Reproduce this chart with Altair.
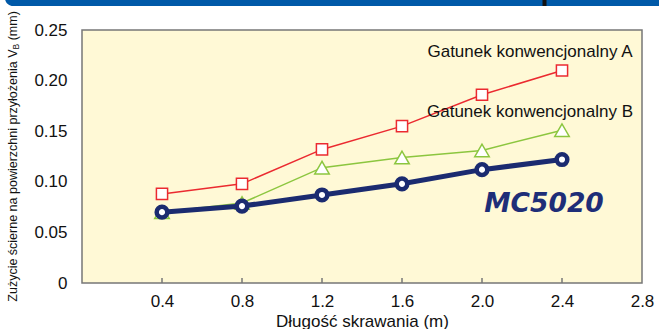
import altair as alt
import pandas as pd

# Cutting length (m) and flank wear VB (mm) for each grade
lengths = [0.4, 0.8, 1.2, 1.6, 2.0, 2.4]
grade_a = [0.088, 0.098, 0.132, 0.155, 0.186, 0.210]
grade_b = [0.070, 0.079, 0.114, 0.124, 0.131, 0.151]
mc5020 = [0.070, 0.076, 0.087, 0.098, 0.112, 0.122]

series_names = ["Gatunek konwencjonalny A", "Gatunek konwencjonalny B", "MC5020"]
x_ticks = [0.4, 0.8, 1.2, 1.6, 2.0, 2.4, 2.8]
y_ticks = [0, 0.05, 0.10, 0.15, 0.20, 0.25]

FONT = "Liberation Sans"
RED = "#EB2A30"
GREEN = "#8CC63F"
NAVY = "#1B2B70"

W, H = 560, 253

x_scale = alt.Scale(domain=[0, 2.8], nice=False, zero=False)
y_scale = alt.Scale(domain=[0, 0.25], nice=False)

x_axis = alt.Axis(
    values=x_ticks, format=".1f", grid=False, domain=False, ticks=False,
    tickSize=0, labelPadding=10, labelFontSize=17, labelColor="#111",
    labelFlush=False, labelOverlap=False, labelBound=False,
    title="Długość skrawania (m)", titleFontSize=17, titleFontWeight="normal",
    titleColor="#111", titleY=43, titleBaseline="alphabetic",
)
y_axis = alt.Axis(
    values=y_ticks, grid=False, domain=False, ticks=False, tickSize=0,
    labelPadding=15, labelFontSize=17, labelColor="#111", labelFlush=False,
    labelOverlap=False,
    labelExpr="datum.value == 0 ? '0' : format(datum.value, '.2f')",
    title=None,
)


def frame(values):
    return pd.DataFrame({"length": lengths, "wear": values})


def series_layers(values, color, line_width, shape, size, stroke_width):
    base = alt.Chart(frame(values)).encode(
        x=alt.X("length:Q", scale=x_scale, axis=x_axis),
        y=alt.Y("wear:Q", scale=y_scale, axis=y_axis),
    )
    line = base.mark_line(color=color, strokeWidth=line_width)
    points = base.mark_point(
        shape=shape, size=size, filled=True, fill="white",
        stroke=color, strokeWidth=stroke_width, opacity=1,
    )
    return [line, points]


layers = []
layers += series_layers(grade_a, RED, 1.5, "square", 125, 1.5)
layers += series_layers(grade_b, GREEN, 1.5, "triangle-up", 210, 1.5)
layers += series_layers(mc5020, NAVY, 5, "circle", 113, 4.5)

# Inward tick marks on the bottom edge
ticks = alt.Chart(pd.DataFrame({"tick": x_ticks[:-1]})).mark_rule(
    color="#777", strokeWidth=1.5
).encode(x=alt.X("tick:Q", scale=x_scale), y=alt.value(H), y2=alt.value(H - 5))

# Series labels, placed next to the last point of each series
label_df = pd.DataFrame({
    "length": [lengths[-1], lengths[-1]],
    "wear": [grade_a[-1], grade_b[-1]],
    "name": series_names[:2],
})
labels = alt.Chart(label_df).mark_text(
    font=FONT, fontSize=17, color="#111", align="center",
    baseline="alphabetic", dx=-32, dy=-13,
).encode(
    x=alt.X("length:Q", scale=x_scale),
    y=alt.Y("wear:Q", scale=y_scale),
    text="name:N",
)

logo = alt.Chart(pd.DataFrame({"t": [series_names[2]]})).mark_text(
    font="DejaVu Sans", fontSize=26.5, fontWeight="bold", fontStyle="italic",
    color="#1E2E78", align="center", baseline="alphabetic",
).encode(x=alt.value(462), y=alt.value(182), text="t:N")

# Rotated y title with subscript B
title_parts = pd.DataFrame({"t": ["Zużycie ścierne na powierzchni przyłożenia V"]})
y_title_main = alt.Chart(title_parts).mark_text(
    font=FONT, fontSize=12.5, angle=270, align="left", baseline="alphabetic",
    color="#111",
).encode(x=alt.value(-65), y=alt.value(271.7), text="t:N")
y_title_sub = alt.Chart(pd.DataFrame({"t": ["B"]})).mark_text(
    font=FONT, fontSize=8.5, angle=270, align="left", baseline="alphabetic",
    color="#111",
).encode(x=alt.value(-63), y=alt.value(19.5), text="t:N")
y_title_unit = alt.Chart(pd.DataFrame({"t": ["(mm)"]})).mark_text(
    font=FONT, fontSize=12.5, angle=270, align="left", baseline="alphabetic",
    color="#111",
).encode(x=alt.value(-65), y=alt.value(10.3), text="t:N")

# Page header strip
header = alt.Chart(pd.DataFrame({"k": [0]})).mark_rect(
    color="#0059A8", cornerRadiusBottomLeft=10
).encode(x=alt.value(-77), x2=alt.value(577), y=alt.value(-40), y2=alt.value(-24))
header_mark = alt.Chart(pd.DataFrame({"k": [0]})).mark_rect(color="#111").encode(
    x=alt.value(460.5), x2=alt.value(464.5), y=alt.value(-30), y2=alt.value(-24)
)

chart = alt.layer(
    ticks, *layers, labels, logo, y_title_main, y_title_sub, y_title_unit,
    header, header_mark,
).properties(
    width=W, height=H,
    autosize=alt.AutoSizeParams(type="none"),
    padding={"left": 82, "top": 30, "right": 17, "bottom": 46},
    background="white",
).configure(font=FONT).configure_view(
    fill="#FFF9D6", stroke="#777", strokeWidth=1.5
)

chart.save("out.html", embed_options={"renderer": "svg", "actions": False})
